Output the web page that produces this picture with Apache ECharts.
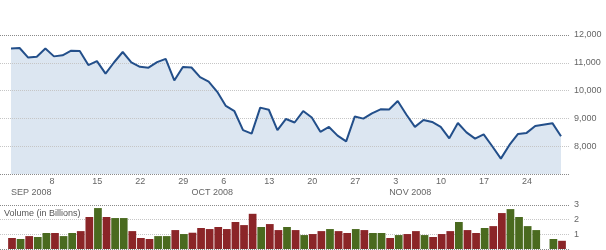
<!DOCTYPE html>
<html><head><meta charset="utf-8">
<script src="https://cdn.jsdelivr.net/npm/echarts@6/dist/echarts.min.js"></script>
<style>html,body{margin:0;padding:0;background:#fff}#c{width:606px;height:250px}</style>
</head><body><div id="c"></div>
<script>
const categories = [
  '9/2','9/3','9/4','9/5','9/8','9/9','9/10','9/11','9/12','9/15','9/16','9/17','9/18','9/19',
  '9/22','9/23','9/24','9/25','9/26','9/29','9/30',
  '10/1','10/2','10/3','10/6','10/7','10/8','10/9','10/10','10/13','10/14','10/15','10/16','10/17',
  '10/20','10/21','10/22','10/23','10/24','10/27','10/28','10/29','10/30','10/31',
  '11/3','11/4','11/5','11/6','11/7','11/10','11/11','11/12','11/13','11/14',
  '11/17','11/18','11/19','11/20','11/21','11/24','11/25','11/26','11/27','11/28',
  '12/1'
];
const closes = [
  11517, 11533, 11188, 11221, 11511, 11231, 11269, 11434, 11422, 10918, 11059, 10610, 11020, 11388,
  11016, 10854, 10825, 11022, 11143, 10365, 10851,
  10831, 10483, 10325, 9956, 9447, 9258, 8579, 8451, 9388, 9311, 8578, 8979, 8852,
  9265, 9034, 8519, 8691, 8379, 8176, 9065, 8991, 9181, 9325,
  9320, 9625, 9139, 8696, 8944, 8871, 8694, 8283, 8835, 8497,
  8274, 8425, 7997, 7552, 8046, 8443, 8479, 8727, null, 8829,
  8360
];
const volumes = [
  0.75, 0.68, 0.88, 0.82, 1.09, 1.09, 0.88, 1.09, 1.22, 2.18, 2.79, 2.18, 2.11, 2.11,
  1.22, 0.75, 0.68, 0.88, 0.88, 1.29, 1.02,
  1.11, 1.43, 1.36, 1.50, 1.36, 1.84, 1.63, 2.40, 1.50, 1.70, 1.29, 1.50, 1.29,
  0.95, 1.02, 1.22, 1.36, 1.22, 1.09, 1.36, 1.29, 1.09, 1.09,
  0.75, 0.95, 1.02, 1.22, 0.95, 0.82, 1.02, 1.22, 1.84, 1.29,
  1.09, 1.43, 1.56, 2.45, 2.72, 2.18, 1.56, 1.29, null, 0.68,
  0.56
];
const prevClose = 11543;
const dayTicks = ['9/8','9/15','9/22','9/29','10/6','10/13','10/20','10/27','11/3','11/10','11/17','11/24'];
const monthTickDates = ['9/2','10/1','11/3'];
const monthTickLabels = ['SEP 2008','OCT 2008','NOV 2008'];
const priceMin = 7000, priceMax = 12000, priceStep = 1000;
const volMin = 0, volMax = 3, volStep = 1;

const FONT = '"Liberation Sans", Arial, sans-serif';
const LINE = '#234f8a', FILL = '#dce6f1', UP = '#4a6a1f', DOWN = '#8b2528';
const DARK = '#8a8a8a', LIGHT = '#c6c6c6', TXT = '#666';

let last = prevClose;
const volumeItems = volumes.map((v, i) => {
  if (v == null || closes[i] == null) return null;
  const col = closes[i] >= last ? UP : DOWN;
  last = closes[i];
  return { value: v, itemStyle: { color: col } };
});

const chart = echarts.init(document.getElementById('c'), null, { renderer: 'canvas' });
chart.setOption({
  animation: false,
  grid: [
    { left: 0, right: 36, top: 35, height: 139 },
    { left: 11, right: 45, top: 35, height: 139 },
    { left: 0, right: 36, top: 205, height: 44 },
    { left: 7.7, right: 39.7, top: 205, height: 44 }
  ],
  xAxis: [
    { gridIndex: 0, type: 'value', min: 0, max: 1, show: false },
    { gridIndex: 1, type: 'category', data: categories, boundaryGap: false,
      axisLine: { show: false }, axisTick: { show: false }, splitLine: { show: false },
      axisLabel: { interval: (i, v) => dayTicks.includes(v), formatter: v => v.split('/')[1],
        align: 'left', padding: [0, 0, 0, 4], margin: 3, fontSize: 9, color: TXT, fontFamily: FONT } },
    { gridIndex: 1, type: 'category', data: categories, boundaryGap: false, position: 'bottom',
      axisLine: { show: false }, axisTick: { show: false }, splitLine: { show: false },
      axisLabel: { interval: (i, v) => monthTickDates.includes(v),
        formatter: v => monthTickLabels[monthTickDates.indexOf(v)] || '',
        align: 'left', margin: 14.5, fontSize: 9, color: TXT, fontFamily: FONT } },
    { gridIndex: 2, type: 'value', min: 0, max: 1, show: false },
    { gridIndex: 3, type: 'category', data: categories, show: false }
  ],
  yAxis: [
    { gridIndex: 0, type: 'value', min: priceMin, max: priceMax, interval: priceStep, position: 'right', z: 3,
      axisLine: { show: false }, axisTick: { show: false },
      splitLine: { show: true, lineStyle: { color: [DARK, LIGHT, LIGHT, LIGHT, LIGHT, DARK], type: [1, 1], width: 1 } },
      axisLabel: { showMinLabel: false, margin: 4, fontSize: 9, color: TXT, fontFamily: FONT,
        formatter: v => v.toLocaleString('en-US') } },
    { gridIndex: 1, type: 'value', min: priceMin, max: priceMax, show: false },
    { gridIndex: 2, type: 'value', min: volMin, max: volMax, interval: volStep, position: 'right',
      axisLine: { show: false }, axisTick: { show: false },
      splitLine: { show: true, lineStyle: { color: [DARK, LIGHT, LIGHT, DARK], type: [1, 1], width: 1 } },
      axisLabel: { showMinLabel: false, margin: 4, fontSize: 9, color: TXT, fontFamily: FONT } },
    { gridIndex: 3, type: 'value', min: volMin, max: volMax, show: false }
  ],
  graphic: [
    { type: 'text', x: 20, y: 66.5, style: { text: 'DJI', fill: LINE, fontSize: 9.5, fontFamily: FONT, verticalAlign: 'middle' } },
    { type: 'text', x: 4, y: 213.5, style: { text: 'Volume (in Billions)', fill: '#555', fontSize: 9, fontFamily: FONT, verticalAlign: 'middle' } }
  ],
  series: [
    { type: 'line', xAxisIndex: 1, yAxisIndex: 1, data: closes, symbol: 'none', connectNulls: true, z: 1, silent: true,
      lineStyle: { width: 0 }, areaStyle: { color: FILL, opacity: 1, origin: 'start' } },
    { type: 'line', xAxisIndex: 1, yAxisIndex: 1, data: closes, symbol: 'none', connectNulls: true, z: 4,
      lineStyle: { width: 2, color: LINE } },
    { type: 'bar', xAxisIndex: 4, yAxisIndex: 3, data: volumeItems, barCategoryGap: '10%' }
  ]
});
</script></body></html>
